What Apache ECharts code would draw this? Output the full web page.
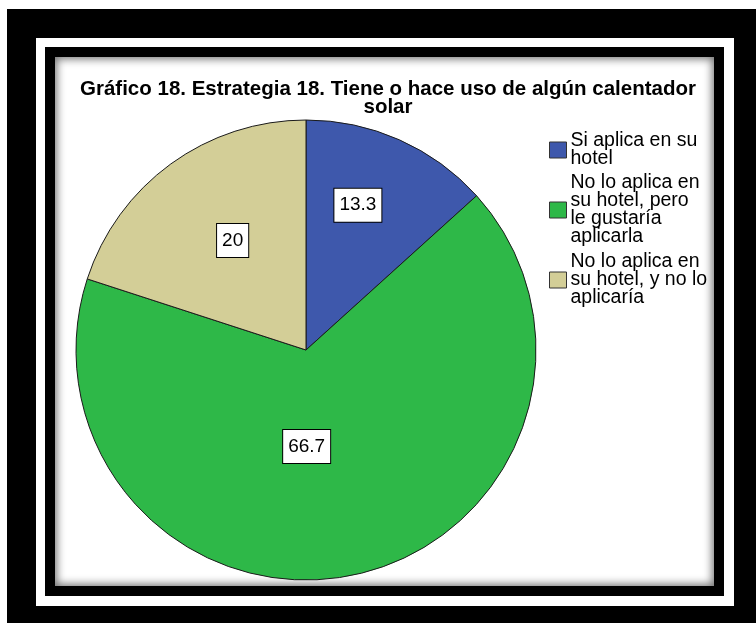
<!DOCTYPE html>
<html>
<head>
<meta charset="utf-8">
<script src="https://cdn.jsdelivr.net/npm/echarts@6/dist/echarts.min.js"></script>
<style>
  html, body { margin: 0; padding: 0; background: #fff; width: 756px; height: 623px; overflow: hidden; }
  .box { position: absolute; }
  #outer { left: 7px; top: 9px; width: 749px; height: 614px; background: #000; }
  #band { left: 36px; top: 38px; width: 698px; height: 568px; background: #fff; }
  #inner { left: 45px; top: 47px; width: 679px; height: 549px; background: #000; }
  #panel { left: 55px; top: 57px; width: 659px; height: 529px; background: #fff; box-shadow: inset 0 0 9px 2px rgba(0,0,0,0.55); }
  #chart { left: 0; top: 0; width: 756px; height: 623px; }
</style>
</head>
<body>
<div class="box" id="outer"></div>
<div class="box" id="band"></div>
<div class="box" id="inner"></div>
<div class="box" id="panel"></div>
<div class="box" id="chart"></div>
<script>
// ---- data ----
const titleText = 'Gráfico 18. Estrategia 18. Tiene o hace uso de algún calentador\nsolar';
const categories = [
  'Si aplica en su hotel',
  'No lo aplica en su hotel, pero le gustaría aplicarla',
  'No lo aplica en su hotel, y no lo aplicaría'
];
const legendLabels = [
  'Si aplica en su\nhotel',
  'No lo aplica en\nsu hotel, pero\nle gustaría\naplicarla',
  'No lo aplica en\nsu hotel, y no lo\naplicaría'
];
const values = [13.3, 66.7, 20];
const valueLabels = ['13.3', '66.7', '20'];

// ---- styles ----
const colors = ['#3E58AC', '#2EB848', '#D3CE97'];
const labelShift = [[4, -37], [-24, -19], [-4, -14]];
const legendTops = [131, 173, 252];

const chart = echarts.init(document.getElementById('chart'), null, { renderer: 'canvas' });

const legends = categories.map((name, i) => ({
  data: [name],
  orient: 'vertical',
  left: 549,
  top: legendTops[i],
  padding: 0,
  itemWidth: 17,
  itemHeight: 16,
  itemGap: 0,
  selectedMode: false,
  icon: 'rect',
  itemStyle: { borderColor: '#333', borderWidth: 1 },
  formatter: () => legendLabels[i],
  textStyle: {
    fontFamily: 'Liberation Sans, Arial, sans-serif',
    fontSize: 19.5,
    lineHeight: 18,
    color: '#000',
    padding: [0, 0, 0, -1]
  }
}));

chart.setOption({
  animation: false,
  backgroundColor: 'transparent',
  color: colors,
  title: {
    text: titleText,
    left: 388,
    top: 80,
    textAlign: 'center',
    padding: 0,
    textStyle: {
      fontFamily: 'Liberation Sans, Arial, sans-serif',
      fontWeight: 'bold',
      fontSize: 20.5,
      lineHeight: 18,
      color: '#000'
    }
  },
  legend: legends,
  series: [{
    type: 'pie',
    center: [306, 350],
    radius: [0, 230],
    startAngle: 90,
    clockwise: true,
    silent: true,
    itemStyle: { borderColor: '#1a1a1a', borderWidth: 1 },
    label: {
      show: true,
      position: 'inside',
      formatter: (p) => valueLabels[p.dataIndex],
      fontFamily: 'Liberation Sans, Arial, sans-serif',
      fontSize: 19,
      lineHeight: 19,
      color: '#000',
      backgroundColor: '#fff',
      borderColor: '#000',
      borderWidth: 1,
      padding: [7, 5, 7, 5]
    },
    labelLine: { show: false },
    labelLayout: (p) => ({ dx: labelShift[p.dataIndex][0], dy: labelShift[p.dataIndex][1] }),
    data: categories.map((name, i) => ({ name: name, value: values[i] }))
  }]
});
</script>
</body>
</html>
